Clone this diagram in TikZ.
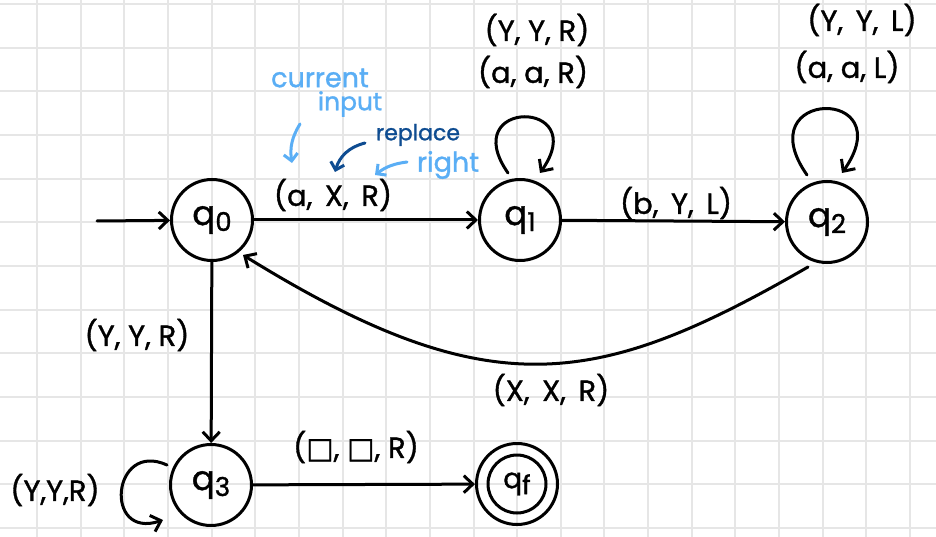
\documentclass[tikz,border=0pt]{standalone}
\usepackage{fontspec}
\setmainfont{Poppins}[FakeBold=1.2]
\newfontfamily\symfont{DejaVu Sans}[FakeBold=1.2]
\usetikzlibrary{arrows.meta}
\definecolor{gridc}{HTML}{E6E6E6}
\definecolor{lblue}{HTML}{5AAEF5}
\definecolor{dblue}{HTML}{0E4C91}
\newcommand{\qs}[1]{q\raisebox{-6pt}{\fontsize{26}{26}\selectfont #1}}
\begin{document}
\begin{tikzpicture}[x=1pt,y=-1pt,
  >={Straight Barb[length=9pt,width=17pt]},
  state/.style={circle,draw,line width=3pt,minimum size=81pt,inner sep=0pt,font=\fontsize{34}{36}\selectfont},
  lab/.style={font=\fontsize{29}{31}\selectfont,inner sep=0pt},
  ann/.style={font=\fontsize{27}{29}\selectfont,inner sep=0pt},
  edgearr/.style={line width=3pt,->,line cap=round},
  annarr/.style={line width=3pt,line cap=round,-{Straight Barb[length=7pt,width=14pt]}},
]
\fill[white] (0,0) rectangle (936,537);
\useasboundingbox (0,0) rectangle (936,537);
\foreach \i in {0,...,20} \draw[gridc,line width=2pt] ({37+43.65*\i},0) -- ({37+43.65*\i},537);
\foreach \j in {0,...,12} \draw[gridc,line width=2pt] (0,{4+43.65*\j}) -- (936,{4+43.65*\j});

% states
\node[state] (q0) at (212,220) {\qs{0}};
\node[state] (q1) at (520,220) {\qs{1}};
\node[state] (q2) at (827,222) {\qs{2}};
\node[state] (q3) at (211,485) {\qs{3}};
\node[state] (qf) at (517,484) {\fontsize{28}{30}\selectfont\qs{f}};
\node[circle,draw,line width=3pt,minimum size=58pt,inner sep=0pt] (qfin) at (qf.center) {};

% start arrow
\coordinate (start) at (97,221);
\draw[edgearr] (start) -- (q0);

% straight transitions
\draw[edgearr] (q0) -- (q1);
\draw[edgearr] (q1) -- (q2);
\draw[edgearr] (q0) -- (q3);
\draw[edgearr] (q3) -- (qf);

% q2 -> q0 curve
\draw[edgearr] ([shift={(-19,45)}]q2.center) .. controls +(-210,121) and +(248,153.5) .. ([shift={(31,35)}]q0.center);

% self loops
\draw[edgearr] ([shift={(-12,-47)}]q1.center) .. controls +(-52,-74.5) and +(52,-74.5) .. ([shift={(20,-47)}]q1.center);
\draw[edgearr] ([shift={(-20,-47)}]q2.center) .. controls +(-60.8,-86.8) and +(60.8,-86.8) .. ([shift={(15,-49)}]q2.center);
\draw[edgearr] ([shift={(-44,-20)}]q3.center) .. controls +(-55,-25) and +(-60,20) .. ([shift={(-48,35)}]q3.center);

% labels
\node[lab] (l01) at (333,195) {(a,\, X,\, R)};
\node[lab] (l12) at (676,203) {(b,\, Y,\, L)};
\node[lab] (l03) at (137,335) {(Y, Y, R)};
\node[lab] (l20) at (551,390) {(X,\, X,\, R)};
\node[lab] (l3f) at (356,447) {({\symfont □}, {\symfont □}, R)};
\node[lab] (l33) at (55,490) {(Y,Y,R)};
\node[lab] (l11a) at (537,30) {(Y, Y, R)};
\node[lab] (l11b) at (533,72) {(a, a, R)};
\node[lab] (l22a) at (862,20) {(Y,\, Y,\, L)};
\node[lab] (l22b) at (847,67) {(a, a, L)};

% annotations
\node[ann,text=lblue] (cur) at (320,78) {current};
\node[ann,text=lblue,font=\fontsize{25}{27}\selectfont] (inp) at (350,104) {input};
\node[ann,text=dblue,font=\fontsize{22}{24}\selectfont] (rep) at (418,135) {replace};
\node[ann,text=lblue] (rig) at (448,165) {right};
\coordinate (a1s) at (300,124);
\coordinate (a1e) at (292,163);
\coordinate (a2s) at (365,143);
\coordinate (a2e) at (335,172);
\coordinate (a3s) at (407,162);
\coordinate (a3e) at (375,175);
\draw[annarr,lblue] (a1s) to[bend right=20] (a1e);
\draw[annarr,dblue] (a2s) to[bend right=30] (a2e);
\draw[annarr,lblue] (a3s) to[bend right=15] (a3e);
\end{tikzpicture}
\end{document}
